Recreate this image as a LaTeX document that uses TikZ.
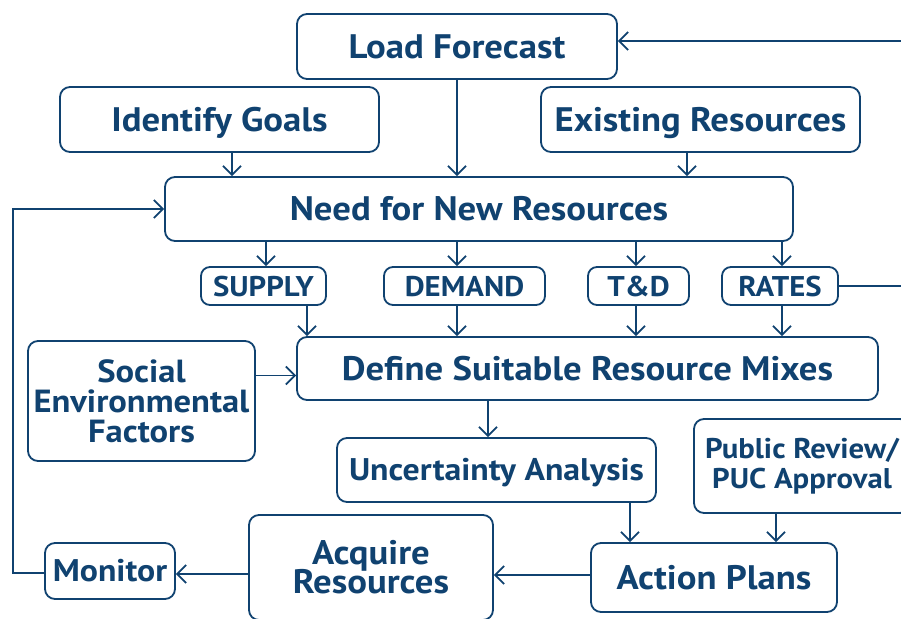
\documentclass[tikz,border=0pt]{standalone}
\usepackage{fontspec}
\setmainfont{PT Sans}[BoldFeatures={FakeStretch=1.08}]
\usetikzlibrary{arrows.meta}
\definecolor{navy}{RGB}{16,66,112}
\setlength{\lineskiplimit}{-30pt}

\begin{document}
\begin{tikzpicture}
    [
      x=1pt, y=-1pt,
      box/.style = {draw=navy, line width=1.8pt, rounded corners=10pt, text=navy, inner sep=0pt, align=center},
      bigbox/.style = {box, font=\fontsize{34}{30}\selectfont\bfseries, text height=23.8pt, text depth=0pt},
      multibox/.style = {box, font=\fontsize{32}{30}\selectfont\bfseries},
      midbox/.style = {box, font=\fontsize{31.3}{30}\selectfont\bfseries, text height=21.9pt, text depth=0pt},
      tagbox/.style = {box, rounded corners=9pt, font=\fontsize{28.5}{28}\selectfont\bfseries, text height=20pt, text depth=0pt},
      arr/.style = {draw=navy, line width=1.8pt, -{Straight Barb[length=9pt,width=18pt]}},
      link/.style = {draw=navy, line width=1.8pt},
    ]
    \useasboundingbox (0,0) rectangle (901,618);
    \clip (0,0) rectangle (901,618);

    \node[bigbox, minimum width=320pt, minimum height=65pt] (load) at (457,46.5) {Load Forecast};
    \node[bigbox, minimum width=319pt, minimum height=65pt] (goals) at (219.5,119.5) {Identify Goals};
    \node[bigbox, minimum width=319pt, minimum height=65pt] (existing) at (700.5,119.5) {Existing Resources};
    \node[bigbox, minimum width=628pt, minimum height=64pt] (need) at (479,209) {Need for New Resources};
    \node[tagbox, minimum width=125pt, minimum height=38pt] (supply) at (263.5,286) {SUPPLY};
    \node[tagbox, minimum width=161pt, minimum height=38pt] (demand) at (464.5,286) {DEMAND};
    \node[tagbox, minimum width=101pt, minimum height=38pt] (td) at (638.5,286) {T\&D};
    \node[tagbox, minimum width=116pt, minimum height=38pt] (rates) at (780,286) {RATES};
    \node[multibox, minimum width=227pt, minimum height=120pt] (social) at (141.5,401) {Social\\Environmental\\Factors};
    \node[bigbox, minimum width=581pt, minimum height=63pt] (define) at (587.5,368.5) {Define Suitable Resource Mixes};
    \node[midbox, minimum width=319pt, minimum height=64pt] (uncert) at (496.5,470) {Uncertainty Analysis};
    \node[multibox, font=\fontsize{28.5}{30}\selectfont\bfseries, minimum width=216pt, minimum height=94pt] (public) at (802,466) {Public Review/\\PUC Approval};
    \node[midbox, minimum width=130pt, minimum height=56pt] (monitor) at (110,571) {Monitor};
    \node[multibox, font=\fontsize{34}{29}\selectfont\bfseries, minimum width=244pt, minimum height=105pt] (acquire) at (371,567.5) {Acquire\\Resources};
    \node[bigbox, minimum width=246pt, minimum height=69pt] (action) at (714,577.5) {Action Plans};
    \coordinate (fromright) at (910,41);
    \coordinate (toright) at (910,287);

    \draw[arr] (fromright) -- (fromright -| load.east);
    \draw[arr] (load.south) -- (load.south |- need.north);
    \draw[arr] ([xshift=12.5pt]goals.south) -- ([xshift=12.5pt]goals.south |- need.north);
    \draw[arr] ([xshift=-13.5pt]existing.south) -- ([xshift=-13.5pt]existing.south |- need.north);
    \draw[arr] ([yshift=-2pt]monitor.west) -- ++(-31,0) |- (need.west);
    \draw[arr] ([xshift=2.5pt]supply.north |- need.south) -- ([xshift=2.5pt]supply.north);
    \draw[arr] ([xshift=-7.5pt]demand.north |- need.south) -- ([xshift=-7.5pt]demand.north);
    \draw[arr] ([xshift=-2.5pt]td.north |- need.south) -- ([xshift=-2.5pt]td.north);
    \draw[arr] ([xshift=2pt]rates.north |- need.south) -- ([xshift=2pt]rates.north);
    \draw[arr] ([xshift=43.5pt]supply.south) -- ([xshift=43.5pt]supply.south |- define.north);
    \draw[arr] ([xshift=-7.5pt]demand.south) -- ([xshift=-7.5pt]demand.south |- define.north);
    \draw[arr] ([xshift=-2.5pt]td.south) -- ([xshift=-2.5pt]td.south |- define.north);
    \draw[arr] ([xshift=2pt]rates.south) -- ([xshift=2pt]rates.south |- define.north);
    \draw[link] (rates.east) -- (rates.east -| toright);
    \draw[arr] ([yshift=-7pt]define.west -| social.east) -- ([yshift=-7pt]define.west);
    \draw[arr] ([xshift=-8.5pt]uncert.north |- define.south) -- ([xshift=-8.5pt]uncert.north);
    \draw[arr] ([xshift=133.5pt]uncert.south) -- ([xshift=133.5pt]uncert.south |- action.north);
    \draw[arr] ([xshift=-26pt]public.south) -- ([xshift=-26pt]public.south |- action.north);
    \draw[arr] ([yshift=2.5pt]action.west) -- ([yshift=2.5pt]action.west -| acquire.east);
    \draw[arr] ([yshift=-3pt]acquire.west |- monitor.east) -- ([yshift=-3pt]monitor.east);
\end{tikzpicture}
\end{document}
